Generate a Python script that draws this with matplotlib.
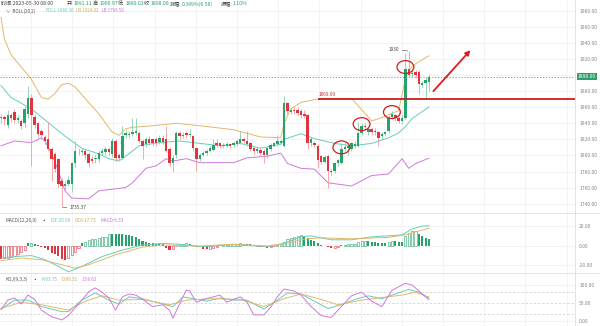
import matplotlib.pyplot as plt
import numpy as np
from matplotlib.patches import Ellipse

plt.rcParams['font.family'] = ['Noto Sans CJK SC', 'DejaVu Sans']

# 4h candles, oldest first
opens = [1846, 1848, 1838, 1850, 1854, 1844, 1843, 1840, 1852, 1872,
         1848, 1840, 1830, 1823, 1821, 1808, 1802, 1795, 1768, 1762,
         1765, 1765, 1790, 1806, 1804, 1806, 1802, 1796, 1795, 1795,
         1803, 1804, 1808, 1802, 1818, 1800, 1797, 1825, 1825, 1827,
         1828, 1828, 1818, 1814, 1821, 1820, 1820, 1817, 1822, 1821,
         1808, 1791, 1800, 1828, 1824, 1828, 1825, 1824, 1809, 1796,
         1801, 1803, 1806, 1807, 1815, 1815, 1812, 1812, 1814, 1813,
         1814, 1816, 1820, 1818, 1815, 1809, 1805, 1807, 1806, 1800,
         1808, 1812, 1814, 1816, 1812, 1865, 1854, 1857, 1857, 1855,
         1852, 1850, 1816, 1816, 1812, 1799, 1792, 1799, 1781, 1781,
         1790, 1791, 1808, 1809, 1808, 1812, 1812, 1828, 1837, 1829,
         1833, 1831, 1829, 1824, 1827, 1831, 1848, 1850, 1847, 1843,
         1847, 1908, 1901, 1904, 1904, 1888, 1890, 1891.11]
highs = [1852, 1850, 1856, 1853, 1858, 1850, 1845, 1862, 1887, 1876,
         1851, 1842, 1833, 1826, 1841, 1810, 1804, 1797, 1772, 1768,
         1774, 1792, 1818, 1809, 1809, 1808, 1804, 1799, 1800, 1806,
         1809, 1811, 1810, 1822, 1821, 1803, 1837, 1832, 1830, 1847,
         1847, 1831, 1820, 1823, 1824, 1822, 1823, 1825, 1826, 1837,
         1810, 1800, 1831, 1831, 1829, 1831, 1833, 1826, 1811, 1803,
         1806, 1808, 1812, 1820, 1820, 1817, 1816, 1817, 1816, 1818,
         1821, 1830, 1823, 1830, 1817, 1811, 1810, 1810, 1808, 1811,
         1815, 1817, 1826, 1821, 1874, 1867, 1858, 1860, 1860, 1858,
         1856, 1852, 1823, 1818, 1814, 1801, 1800, 1802, 1783, 1792,
         1796, 1815, 1815, 1814, 1817, 1818, 1842, 1840, 1840, 1836,
         1836, 1834, 1831, 1829, 1831, 1850, 1855, 1852, 1849, 1850,
         1928, 1930, 1906, 1906, 1906, 1893, 1898, 1900.97]
lows = [1840, 1838, 1834, 1842, 1840, 1840, 1833, 1836, 1846, 1787,
        1834, 1823, 1820, 1814, 1805, 1768, 1780, 1760, 1735.37, 1756,
        1762, 1754, 1786, 1800, 1801, 1796, 1786, 1790, 1791, 1792,
        1800, 1801, 1800, 1798, 1793, 1794, 1795, 1822, 1822, 1824,
        1825, 1815, 1796, 1811, 1813, 1812, 1812, 1814, 1814, 1804,
        1787, 1779, 1797, 1821, 1822, 1822, 1823, 1806, 1781, 1793,
        1799, 1800, 1804, 1805, 1810, 1809, 1809, 1810, 1809, 1810,
        1812, 1814, 1815, 1812, 1806, 1802, 1803, 1800, 1791, 1797,
        1805, 1810, 1812, 1814, 1810, 1852, 1851, 1852, 1850, 1847,
        1846, 1808, 1812, 1810, 1784, 1789, 1790, 1760, 1776, 1778,
        1787, 1789, 1805, 1800, 1805, 1809, 1810, 1825, 1832, 1826,
        1826, 1826, 1812, 1820, 1824, 1828, 1845, 1843, 1840, 1839,
        1845, 1897, 1898, 1896, 1877, 1885, 1872, 1880.02]
closes = [1848, 1845, 1850, 1847, 1844, 1847, 1837, 1858, 1872, 1850,
          1838, 1827, 1825, 1818, 1808, 1796, 1783, 1765, 1762, 1765,
          1770, 1790, 1806, 1805, 1806, 1800, 1791, 1793, 1797, 1803,
          1806, 1808, 1804, 1818, 1797, 1797, 1824, 1828, 1827, 1829,
          1830, 1818, 1812, 1820, 1816, 1816, 1815, 1822, 1817, 1806,
          1791, 1797, 1828, 1824, 1826, 1826, 1827, 1809, 1796, 1801,
          1803, 1806, 1809, 1813, 1813, 1812, 1813, 1814, 1812, 1815,
          1818, 1821, 1818, 1814, 1808, 1805, 1808, 1803, 1800, 1809,
          1813, 1815, 1818, 1818, 1865, 1855, 1856, 1855, 1853, 1850,
          1849, 1815, 1820, 1813, 1794, 1792, 1798, 1781, 1779, 1790,
          1794, 1808, 1810, 1812, 1815, 1814, 1828, 1837, 1835, 1833,
          1829, 1829, 1822, 1827, 1829, 1847, 1852, 1846, 1843, 1847,
          1908, 1900, 1903, 1900, 1889, 1890, 1894, 1898.00]

# BOLL(20,2) bands, read at selected candles
boll_idx = [0, 3, 9, 14, 19, 24, 29, 32, 35, 37, 41, 47, 53, 59, 65, 71, 77,
            83, 84, 89, 93, 99, 104, 110, 115, 118, 120, 122, 127]
boll_mid = [1887, 1872, 1858, 1841, 1824, 1809, 1802, 1796, 1793, 1799, 1812,
            1816, 1818, 1815, 1812, 1815, 1809, 1814, 1820, 1827, 1821, 1815,
            1812, 1815, 1822, 1828, 1836, 1846, 1860.30]
ub_idx = [0, 1, 3, 6, 9, 12, 14, 16, 18, 20, 22, 26, 29, 33, 35, 37, 39, 45,
          52, 59, 69, 77, 83, 84, 86, 89, 95, 104, 110, 113, 118, 120, 121,
          123, 127]
ub = [1972, 1945, 1925, 1910, 1895, 1872, 1870, 1877, 1888, 1890, 1885, 1866,
      1852, 1829, 1825, 1833, 1835, 1837, 1840, 1837, 1832, 1823, 1822, 1840,
      1858, 1866, 1871, 1871, 1843, 1847, 1856, 1895, 1906, 1914, 1924.02]
lb_idx = [0, 4, 9, 12, 13, 15, 17, 19, 21, 26, 29, 33, 37, 39, 43, 46, 49, 51,
          55, 59, 69, 73, 79, 83, 85, 89, 93, 97, 104, 110, 115, 119, 121, 123,
          127]
lb = [1812, 1818, 1816, 1822, 1818, 1803, 1781, 1756, 1747, 1746, 1756, 1758,
      1760, 1766, 1784, 1787, 1796, 1793, 1796, 1791, 1791, 1797, 1799, 1803,
      1790, 1784, 1783, 1766, 1762, 1775, 1777, 1796, 1784, 1790, 1796.58]

# MACD(12,26,9)
macd_hist = [-13, -12.5, -12, -11, -10, -8.5, -6.5, -4, 2.5, 3,
             2, 0.5, -1, -2.7, -4.4, -7, -8.8, -10.4, -13, -14.5,
             -12.7, -9.5, -6, -2.7, 2.4, 4, 5.7, 6.4, 6.5, 7.5,
             8.4, 9, 12, 11.8, 11.6, 11.5, 11.4, 11.2, 11, 9.8,
             8.4, 6.4, 5, 4, 3, 2.4, 2.1, 1.7, 1.4, -2,
             -4.4, -3, -0.5, 1, 1.7, 2.4, 2, 1, -1, -1.7,
             -3.4, -3.7, -3, -2, -1, 0.4, 0.8, 1.2, 1.5, 1.7,
             2, 2.4, 2.2, 2, 1.4, 0.8, -0.5, -1.4, -1.7, -2,
             -1.4, -0.6, 0.7, 2, 4, 6.4, 7.4, 8.4, 9.8, 10.8,
             10, 8, 6, 4.5, 2.5, 1, 0.2, -1.5, -2.5, -2,
             -1.2, 0.5, 1, 1.5, 2, 2.2, 3.5, 4.5, 4.8, 4.6,
             4.2, 3.8, 3, 2.8, 2.6, 3.8, 4.8, 4.6, 4, 3.8,
             10, 13, 14.5, 15, 12, 10, 8, 6.33]
dif_idx = [0, 4, 9, 13, 17, 20, 24, 30, 36, 42, 48, 53, 59, 69, 79, 84, 89,
           92, 98, 104, 110, 115, 119, 122, 125, 127]
dif = [-12.5, -11, -10, -14, -20.9, -26.5, -21, -11, -4.4, 0.7, 2.4, 1.4, -1,
       1.4, -1, 2.4, 9.1, 10, 6, 6, 9, 10, 11, 17, 20, 20.09]
dea_idx = [0, 6, 12, 18, 22, 26, 34, 42, 48, 59, 69, 79, 86, 89, 95, 104, 115,
           120, 124, 127]
dea = [-15.2, -12.5, -14.2, -19.3, -22.7, -19.3, -9.2, -1.4, 0.7, -0.3, 1.4,
       -0.3, 3, 6.4, 8, 7, 8.5, 11, 15, 17.73]

# KDJ(9,3,3)
k_idx = [0, 4, 8, 12, 18, 20, 24, 28, 32, 35, 38, 42, 48, 51, 54, 57, 61, 65,
         69, 73, 78, 82, 85, 89, 93, 97, 101, 105, 109, 113, 117, 121, 124, 127]
k_val = [33, 58, 58, 40, 26, 26, 58, 78, 58, 47, 67, 62, 47, 40, 67, 62, 55, 64,
         58, 58, 33, 58, 78, 75, 55, 35, 45, 60, 70, 62, 75, 88, 80, 63.75]
d_idx = [0, 6, 12, 20, 25, 30, 35, 42, 50, 55, 63, 71, 78, 84, 89, 95, 100,
         107, 113, 119, 123, 127]
d_val = [35, 52, 45, 30, 55, 70, 58, 60, 45, 58, 62, 60, 40, 62, 75, 60, 45,
         58, 65, 72, 80, 66.31]
j_idx = [0, 2, 4, 6, 8, 10, 12, 15, 18, 20, 24, 26, 28, 30, 32, 34, 36, 38, 40,
         42, 45, 48, 50, 51, 54, 55, 56, 58, 60, 63, 65, 67, 69, 71, 73, 75, 78,
         80, 82, 84, 87, 89, 92, 95, 98, 101, 104, 107, 110, 113, 116, 120, 122,
         125, 127]
j_val = [32, 58, 64, 47, 72, 60, 30, 12, 3, 15, 58, 81, 92, 80, 64, 30, 67, 75,
         72, 60, 40, 45, 30, 8, 67, 86, 83, 52, 60, 67, 72, 52, 60, 67, 52, 17,
         17, 38, 67, 89, 83, 72, 40, 15, 10, 40, 70, 80, 55, 40, 85, 105, 100,
         75, 58.62]

# candles picked out by hand, and the resistance level
circled = [101, 107, 116, 120]
resistance = 1869.99
resistance_from = 94

GREEN = '#26a26b'
RED = '#e0343f'
C_MID = '#66cdbb'
C_UP = '#e2b86a'
C_LOW = '#cf78dc'
GRID = '#f1f1f1'
DARK = '#444444'

W, H = 600, 326
fig = plt.figure(figsize=(W / 100, H / 100), dpi=100)

n = len(closes)
x = np.arange(n)
step = 428 / (n - 1)          # pixels per candle
x0 = -1 / step
x1 = x0 + 575 / step


def pane(top, bottom):
    ax = fig.add_axes([0, 1 - bottom / H, 575 / W, (bottom - top) / H])
    ax.set_xlim(x0, x1)
    for s in ax.spines.values():
        s.set_visible(False)
    ax.set_xticks([])
    ax.yaxis.tick_right()
    ax.tick_params(axis='y', length=0, pad=3, labelsize=3.6, labelcolor='#888888')
    for gx in np.arange(8.9, x1, 41.2 / step):
        ax.axvline(gx, color=GRID, lw=0.6, zorder=0)
    return ax


# ---- price pane ----
ax = pane(0, 213)
ax.set_ylim(1728.4, 1993.4)
yt = np.arange(1740, 1981, 20)
ax.set_yticks(yt)
ax.set_yticklabels([f'{v:.2f}' for v in yt])
for v in yt:
    ax.axhline(v, color=GRID, lw=0.6, zorder=0)

o = np.array(opens)
c = np.array(closes)
up = c >= o
body_col = np.where(up, GREEN, RED)
wick_col = np.where(up, '#86cfa8', '#f29aa0')
ax.vlines(x, lows, highs, colors=wick_col, lw=0.6, zorder=2)
ax.bar(x, np.maximum(np.abs(c - o), 0.9), bottom=np.minimum(o, c), width=0.72,
       color=body_col, lw=0, zorder=3)

ax.plot(ub_idx, ub, color=C_UP, lw=0.7, zorder=1)
ax.plot(boll_idx, boll_mid, color=C_MID, lw=0.7, zorder=1)
ax.plot(lb_idx, lb, color=C_LOW, lw=0.7, zorder=1)

ax.axhline(closes[-1], color='#3aa88a', lw=0.6, ls=(0, (1.5, 2)), zorder=1)

ax.hlines(resistance, resistance_from, x1, color='#c81e1e', lw=1.3, zorder=4)
ax.text(resistance_from + 0.3, resistance + 3, f'{resistance:.2f}', color='#c83030',
        fontsize=3.4, va='bottom', ha='left')

for i in circled:
    cy = max(opens[i], closes[i]) + 2
    ax.add_patch(Ellipse((i, cy), 5.0, 16, fill=False, ec='#d01c1c', lw=0.9,
                         zorder=5))

ax.annotate('', xy=(n + 11.3, 1931), xytext=(n + 0.3, 1880),
            arrowprops=dict(arrowstyle='-|>', color='#e01b1b', lw=1.3,
                            mutation_scale=7, shrinkA=0, shrinkB=0), zorder=6)

hi = int(np.argmax(highs))
ax.annotate(f'{highs[hi]:.0f}', xy=(hi - 0.3, highs[hi]), xytext=(-6, 1),
            textcoords='offset points', ha='right', va='center', fontsize=3.4,
            color=DARK,
            arrowprops=dict(arrowstyle='-', color=DARK, lw=0.4,
                            shrinkA=0, shrinkB=0))
lo = int(np.argmin(lows))
ax.annotate(f'{lows[lo]:.2f}', xy=(lo + 0.3, lows[lo]), xytext=(5, 0),
            textcoords='offset points', ha='left', va='center', fontsize=3.4,
            color=DARK,
            arrowprops=dict(arrowstyle='-', color=DARK, lw=0.4,
                            shrinkA=0, shrinkB=0))

# ---- MACD pane ----
am = pane(213, 273)
am.set_ylim(-27.7, 33.2)
am.set_yticks([20, 0, -20])
am.set_yticklabels(['20.00', '0.00', '-20.00'])
for v in (20, 0, -20):
    am.axhline(v, color=GRID, lw=0.6, zorder=0)
h = np.array(macd_hist)
prev = np.concatenate([[h[0]], h[:-1]])
for i, v in enumerate(h):
    col = GREEN if v >= 0 else RED
    hollow = abs(v) > abs(prev[i]) if v >= 0 else abs(v) < abs(prev[i])
    if hollow:
        am.bar(i, v, width=0.62, facecolor='white', edgecolor=col, lw=0.4, zorder=2)
    else:
        am.bar(i, v, width=0.62, color=col, lw=0, zorder=2)
am.plot(dif_idx, dif, color=C_MID, lw=0.7, zorder=3)
am.plot(dea_idx, dea, color=C_UP, lw=0.7, zorder=3)

# ---- KDJ pane ----
ak = pane(273, 326)
ak.set_ylim(-13.9, 133.3)
ak.set_yticks([100, 50, 0])
ak.set_yticklabels(['100.00', '50.00', '0.00'])
for v in (100, 0):
    ak.axhline(v, color=GRID, lw=0.6, zorder=0)
for v in (80, 50, 20):
    ak.axhline(v, color='#d6d6d6', lw=0.6, ls=(0, (3, 2)), zorder=0)
ak.plot(k_idx, k_val, color=C_MID, lw=0.7)
ak.plot(d_idx, d_val, color=C_UP, lw=0.7)
ak.plot(j_idx, j_val, color=C_LOW, lw=0.7)

# ---- frame lines ----
for yy in (213, 273):
    fig.add_artist(plt.Line2D([0, 1], [1 - yy / H] * 2, color='#dddddd', lw=0.6))
fig.add_artist(plt.Line2D([575 / W] * 2, [0, 1], color='#dddddd', lw=0.6))

# last price tag
fig.text(587 / W, 1 - 76.3 / H, f'{closes[-1]:.2f}', ha='center', va='center',
         fontsize=3.6, color='white',
         bbox=dict(boxstyle='square,pad=0.25', fc='#2e9e6c', ec='none'))

# ---- legend rows: each piece starts at its column, or right after the last ----
renderer = fig.canvas.get_renderer()


def row(py, pieces, size, gap=1.5):
    end = 0.0
    for px, s, col in pieces:
        start = end if px is None else max(px, end)
        t = fig.text(start / W, 1 - py / H, s, fontsize=size, color=col,
                     va='center', ha='left')
        end = t.get_window_extent(renderer).x1 + gap


o_last, h_last, l_last, c_last = opens[-1], highs[-1], lows[-1], closes[-1]
row(3.8, [(1, '时间:2023-05-30 08:00', DARK),
          (67, '开:', DARK), (None, f'{o_last:.2f}', GREEN),
          (92, '高:', DARK), (None, f'{h_last:.2f}', GREEN),
          (117, '低:', DARK), (None, f'{l_last:.2f}', GREEN),
          (142, '收:', DARK), (None, f'{c_last:.2f}', GREEN),
          (169, '涨幅:', DARK), (None, '0.349%(6.58)', GREEN),
          (221, '振幅:', DARK), (None, '1.10%', GREEN)], 3.7, gap=0.3)
row(11, [(6, '∨  BOLL(20,2)', '#555555'),
         (45, f'BOLL:{boll_mid[-1]:.2f}', C_MID),
         (None, f'UB:{ub[-1]:.2f}', '#d4a64e'),
         (None, f'LB:{lb[-1]:.2f}', C_LOW)], 3.2, gap=2.5)
row(220.5, [(6, 'MACD(12,26,9)', '#555555'), (None, '▪', '#555555'),
            (None, f'DIF:{dif[-1]:.2f}', C_MID),
            (None, f'DEA:{dea[-1]:.2f}', '#d4a64e'),
            (None, f'MACD:{macd_hist[-1]:.2f}', C_LOW)], 3.4, gap=4)
row(279.5, [(6, 'KDJ(9,3,3)', '#555555'), (None, '▪', '#555555'),
            (None, f'K:{k_val[-1]:.2f}', C_MID),
            (None, f'D:{d_val[-1]:.2f}', '#d4a64e'),
            (None, f'J:{j_val[-1]:.2f}', C_LOW)], 3.4, gap=4)

fig.savefig('out.png', dpi=100, facecolor='white')
